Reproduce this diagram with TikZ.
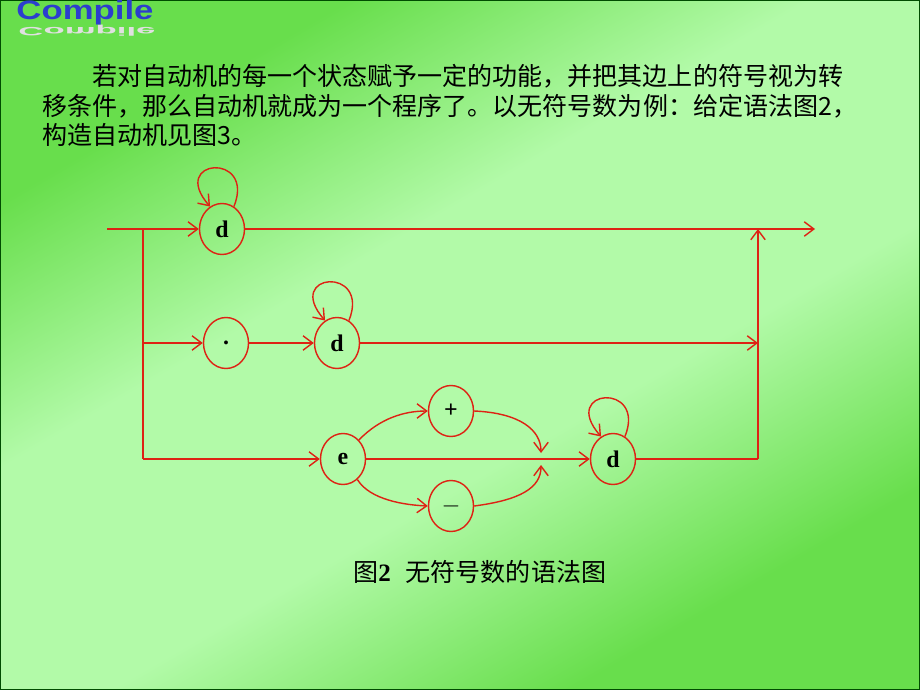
\documentclass[tikz,border=0pt]{standalone}
\usepackage{fontspec}
\setmainfont{Liberation Serif}
\newfontfamily\cjk{Noto Sans CJK SC}
\newfontfamily\titlefont{Liberation Sans}
\usepackage{xcolor}
\usepackage{tikz}
\usetikzlibrary{arrows.meta,positioning,shapes.geometric}

\definecolor{bgdark}{RGB}{104,222,76}
\definecolor{bglight}{RGB}{178,250,168}
\definecolor{linered}{RGB}{222,34,20}
\definecolor{titleblue}{RGB}{44,62,206}

\pgfdeclareverticalshading{slideshade}{100bp}{color(0bp)=(bgdark); color(27bp)=(bgdark);
    color(42bp)=(bglight); color(58bp)=(bglight); color(73bp)=(bgdark); color(100bp)=(bgdark)}

\begin{document}
\begin{tikzpicture}[
    x=0.025cm, y=-0.025cm,
    >={Straight Barb[length=2.4mm,width=3.6mm]},
    state/.style={ellipse, draw=linered, line width=1pt, minimum width=1.125cm,
        minimum height=1.275cm, inner sep=0pt, font=\fontsize{17}{17}\selectfont\bfseries},
    wire/.style={draw=linered, line width=1pt},
    loopback/.style={wire, ->},
    para/.style={anchor=west, inner sep=0pt, font=\cjk\fontsize{17.8}{20}\selectfont}
]
\useasboundingbox (0,0) rectangle (920,690);

% Background
\shade[shading=slideshade, shading angle=30] (0,0) rectangle (920,690);
\draw[black!70!green, line width=1.5pt] (0,0) rectangle (920,690);

% Title
\node[text=black!12, inner sep=0pt, yscale=-0.45, transform shape] (titleshadow) at (87,31)
    {\titlefont\bfseries\fontsize{19}{19}\selectfont\scalebox{1.3}[1]{Compile}};
\node[text=titleblue, inner sep=0pt] (title) at (85,13)
    {\titlefont\bfseries\fontsize{19}{19}\selectfont\scalebox{1.3}[1]{Compile}};

% Text
\node[para] (line1) at (92,76) {若对自动机的每一个状态赋予一定的功能，并把其边上的符号视为转};
\node[para] (line2) at (42,106) {移条件，那么自动机就成为一个程序了。以无符号数为例：给定语法图2，};
\node[para] (line3) at (42,135) {构造自动机见图3。};

% States
\node[state] (d1) at (222,229) {d};
\node[state] (dot) at (226,343) {.};
\node[state] (d2) at (337,343) {d};
\node[state] (e) at (343,459) {e};
\node[state] (plus) at (451,411) {+};
\node[state] (minus) at (451,506) {$-$};
\node[state] (d3) at (613,459) {d};

% Branch and join points
\coordinate (in) at (107,229);
\coordinate (b1) at (143,229);
\coordinate (b2) at (143,343);
\coordinate (b3) at (143,459);
\coordinate (out) at (815,229);
\coordinate (j1) at (758,229);
\coordinate (j2) at (758,343);
\coordinate (j3) at (758,459);
\coordinate (mt) at (541,453);
\coordinate (mb) at (541,465);

% Main lines
\draw[wire, ->] (in) -- (d1);
\draw[wire] (b1) -- (b3);
\draw[wire, ->] (d1) -- (out);
\draw[wire, ->] (b2) -- (dot);
\draw[wire, ->] (dot) -- (d2);
\draw[wire, ->] (d2) -- (j2);
\draw[wire, ->] (b3) -- (e);
\draw[wire, ->] (e) -- (d3);
\draw[wire] (d3) -- (j3);
\draw[wire, ->] (j3) -- (j1);

% Sign branches
\draw[wire, ->] (e.50) .. controls (380,418) and (405,411) .. (plus.west);
\draw[wire, ->] (plus.east) .. controls (520,413) and (541,430) .. (mt);
\draw[wire, ->] (e.-55) .. controls (370,500) and (405,505) .. (minus.west);
\draw[wire, ->] (minus.east) .. controls (520,500) and (541,488) .. (mb);

% Self loops
\foreach \s in {d1, d2, d3} {
    \draw[loopback] (\s.62) .. controls +(22,-55) and +(-42,-48) .. (\s.118);
}

% Caption
\node[anchor=west, inner sep=0pt, font=\cjk\fontsize{17.8}{20}\selectfont] (caption) at (353,572)
    {图{\rmfamily\bfseries 2}\hspace{0.6em}无符号数的语法图};

\end{tikzpicture}
\end{document}
